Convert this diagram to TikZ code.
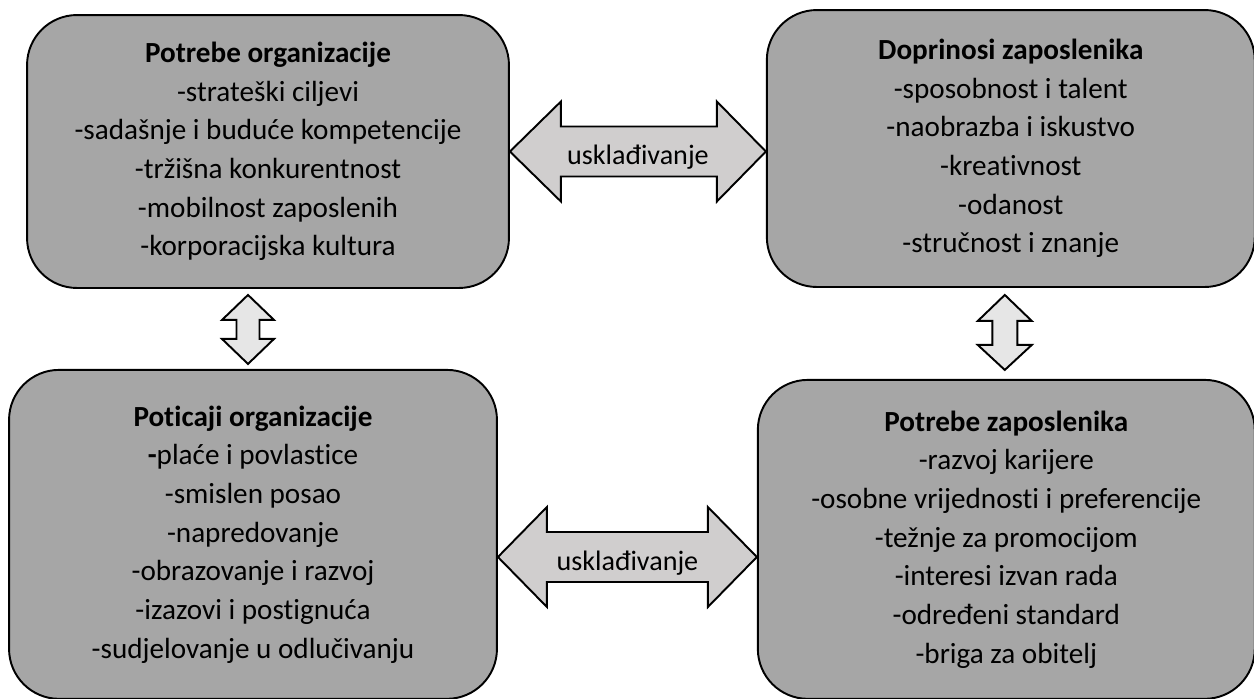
\documentclass[tikz,border=0pt]{standalone}
\usepackage{fontspec}
\setmainfont{Carlito}[Ligatures=NoCommon]
\usetikzlibrary{positioning,calc}
\definecolor{sivaKutija}{HTML}{A6A6A6}
\definecolor{sivaH}{HTML}{D0CECE}
\definecolor{sivaV}{HTML}{E6E6E6}
\tikzset{
  kutija/.style={draw, line width=1.1pt, fill=sivaKutija, rounded corners=1cm,
    align=center, inner sep=0pt, font=\fontsize{16.6}{22}\selectfont},
  strelicaH/.style={draw, line width=1.1pt, fill=sivaH, line join=miter},
  strelicaV/.style={draw, line width=1.1pt, fill=sivaV, line join=miter},
  natpis/.style={font=\fontsize{16}{19}\selectfont, inner sep=0pt}
}

\begin{document}
\begin{tikzpicture}[x=0.02cm, y=-0.02cm]
  \useasboundingbox (0,0) rectangle (1254,698);

  \node[kutija, minimum width=9.64cm, minimum height=5.46cm] (potOrg) at (268,151.5)
    {\textbf{Potrebe organizacije}\\-strateški ciljevi\\-sadašnje i buduće kompetencije\\-tržišna konkurentnost\\-mobilnost zaposlenih\\-korporacijska kultura};
  \node[kutija, minimum width=9.76cm, minimum height=5.54cm, right=5.12cm of potOrg, yshift=0.06cm] (doprZap)
    {\textbf{Doprinosi zaposlenika}\\-sposobnost i talent\\-naobrazba i iskustvo\\-kreativnost\\-odanost\\-stručnost i znanje};
  \node[kutija, minimum width=9.76cm, minimum height=6.58cm, below=1.6cm of potOrg, xshift=-0.3cm] (poticaji)
    {\textbf{Poticaji organizacije}\\\textbf{-}plaće i povlastice\\-smislen posao\\-napredovanje\\-obrazovanje i razvoj\\-izazovi i postignuća\\-sudjelovanje u odlučivanju};
  \node[kutija, minimum width=9.94cm, minimum height=6.38cm, right=5.18cm of poticaji, yshift=-0.1cm] (potZap)
    {\textbf{Potrebe zaposlenika}\\-razvoj karijere\\-osobne vrijednosti i preferencije\\-težnje za promocijom\\-interesi izvan rada\\-određeni standard\\-briga za obitelj};

  % gornje uskladjivanje
  \coordinate (u1) at (potOrg.east);
  \coordinate (u2) at (doprZap.west |- potOrg.east);
  \draw[strelicaH] (u1) -- ++(51,-50) -- ++(0,25) -- ($(u2)+(-49,-25)$) -- ++(0,-25) -- (u2)
    -- ++(-49,50) -- ++(0,-25) -- ($(u1)+(51,25)$) -- ++(0,25) -- cycle;
  \node[natpis] (uskl1) at ($(u1)!0.5!(u2)+(0,6)$) {usklađivanje};

  % donje uskladjivanje
  \coordinate (razina) at (0,557);
  \coordinate (d1) at (poticaji.east |- razina);
  \coordinate (d2) at (potZap.west |- razina);
  \draw[strelicaH] (d1) -- ++(49,-50) -- ++(0,25) -- ($(d2)+(-49,-25)$) -- ++(0,-25) -- (d2)
    -- ++(-49,50) -- ++(0,-25) -- ($(d1)+(49,25)$) -- ++(0,25) -- cycle;
  \node[natpis] (uskl2) at ($(d1)!0.5!(d2)+(0,6)$) {usklađivanje};

  % okomite strelice
  \coordinate (v1) at ($(potOrg.south)+(-20,6)$);
  \coordinate (v2) at ($(poticaji.north)+(-5,-5)$);
  \draw[strelicaV] (v1) -- ++(26,25) -- ++(-14.5,0) -- ($(v2)+(11.5,-25)$) -- ++(14.5,0) -- (v2)
    -- ++(-26,-25) -- ++(14.5,0) -- ($(v1)+(-11.5,25)$) -- ++(-14.5,0) -- cycle;
  \coordinate (w1) at ($(doprZap.south)+(-6,7)$);
  \coordinate (w2) at ($(potZap.north)+(-1.5,-9)$);
  \draw[strelicaV] (w1) -- ++(27,26) -- ++(-14.5,0) -- ($(w2)+(12.5,-25)$) -- ++(14.5,0) -- (w2)
    -- ++(-27,-25) -- ++(14.5,0) -- ($(w1)+(-12.5,26)$) -- ++(-14.5,0) -- cycle;
\end{tikzpicture}
\end{document}
